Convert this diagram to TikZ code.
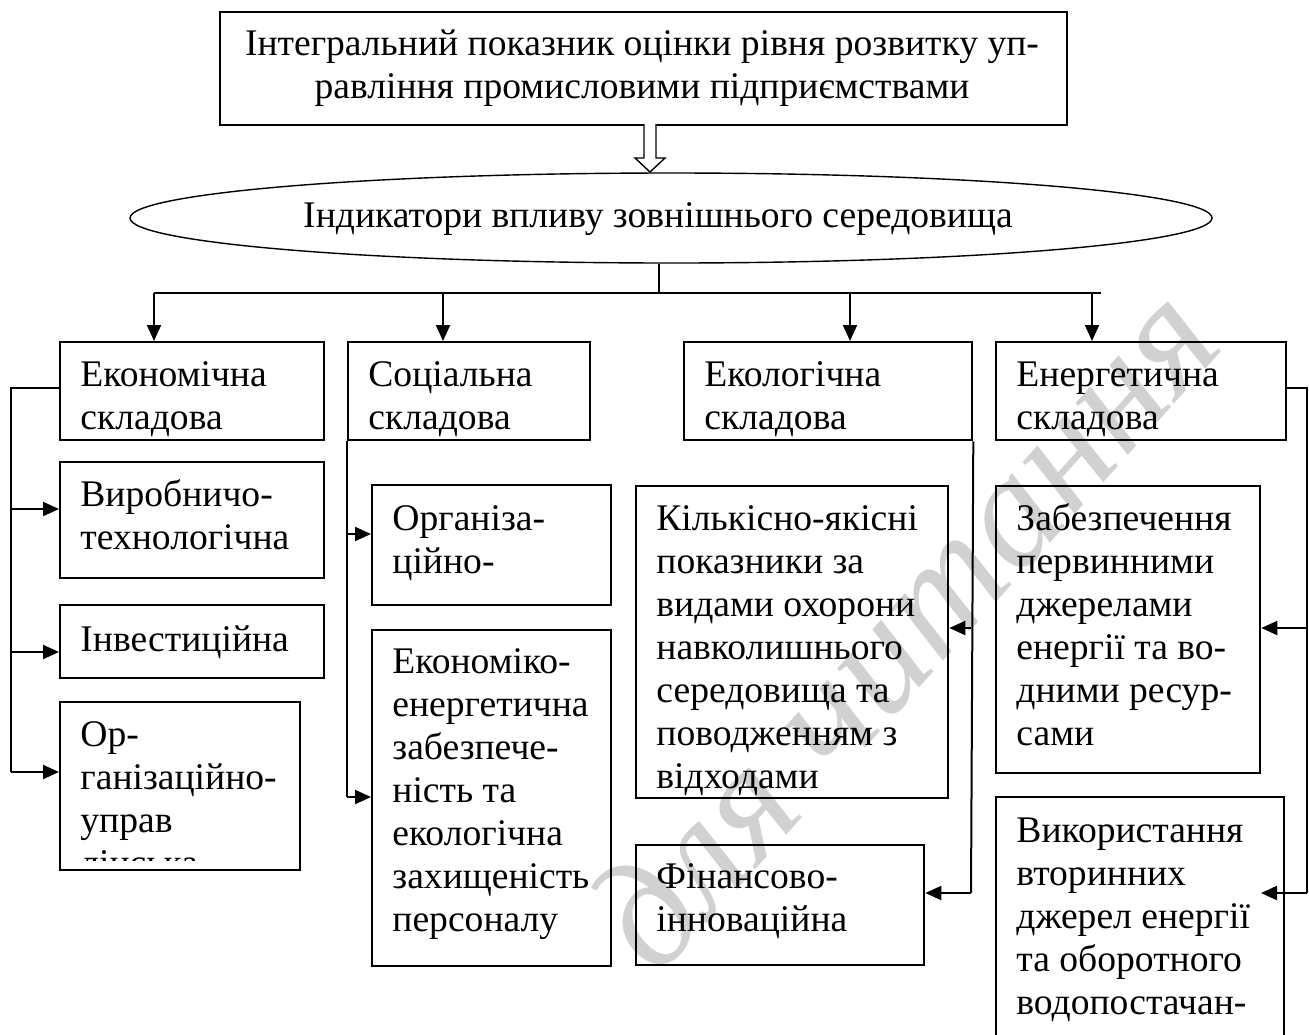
\documentclass[tikz,border=0pt]{standalone}
\usepackage{fontspec}
\setmainfont{Liberation Serif}
\usetikzlibrary{arrows.meta,shapes.geometric,calc}
\newcommand{\mlines}[1]{\begin{tabular}[t]{@{}l@{}}#1\end{tabular}}
\newcommand{\mlinesc}[1]{\begin{tabular}[t]{@{}c@{}}#1\end{tabular}}
\begin{document}
\begin{tikzpicture}[x=0.5pt,y=-0.5pt,
  box/.style={draw, line width=1.15pt, rectangle, anchor=north west, inner sep=0pt},
  txt/.style={anchor=base west, inner sep=0pt, font=\fontsize{18.8pt}{21.5pt}\selectfont},
  arr/.style={line width=1pt, -{Triangle[length=8pt,width=7pt]}},
  conn/.style={line width=1pt}]
\useasboundingbox (0,0) rectangle (1309,1034);
\clip (0,0) rectangle (1309,1034);

% watermark
\node[rotate=48, text=black!18, inner sep=0pt, anchor=base east,
      font=\fontsize{80pt}{80pt}\selectfont\itshape] (wm) at (1228,345) {для читання};

% top box
\node[box, line width=1pt, minimum width=423.5pt, minimum height=56.5pt] (top) at (219,11) {};
\node[anchor=base, inner sep=0pt, font=\fontsize{18.8pt}{21.5pt}\selectfont] (topt) at (642,55)
  {\mlinesc{Інтегральний показник оцінки рівня розвитку уп-\\равління промисловими підприємствами}};

% hollow arrow
\coordinate (ha) at (650,124);
\draw[line width=0.7pt, fill=white] (ha) ++(-6,0) -- ++(0,34) -- ++(-9,0) -- ++(15,14) -- ++(15,-14) -- ++(-9,0) -- ++(0,-34);

% ellipse
\node[draw, ellipse, line width=0.7pt, minimum width=541pt, minimum height=45pt, inner sep=0pt] (ell) at (671,218) {};
\node[anchor=base, inner sep=0pt, font=\fontsize{18.8pt}{21.5pt}\selectfont] (ellt) at (658,227)
  {Індикатори впливу зовнішнього середовища};

% distribution lines
\coordinate (hc) at (659,293);
\coordinate (h1) at (154,293);
\coordinate (h2) at (443,293);
\coordinate (h3) at (850,293);
\coordinate (h4) at (1092,293);
\coordinate (h5) at (1101,293);
\draw[line width=0.7pt] (ell.south -| hc) -- (hc);
\draw[conn] (h1) -- (h5);

% row 1
\node[box, minimum width=132pt, minimum height=49pt] (e1) at (59,341) {};
\node[box, minimum width=121pt, minimum height=49pt] (s1) at (347,341) {};
\node[box, minimum width=144pt, minimum height=49pt] (k1) at (683,341) {};
\node[box, minimum width=145pt, minimum height=49pt] (n1) at (995,341) {};
\node[txt] (e1t) at ($(e1.north west)+(21,45)$) {\mlines{Економічна\\складова}};
\node[txt] (s1t) at ($(s1.north west)+(21,45)$) {\mlines{Соціальна\\складова}};
\node[txt] (k1t) at ($(k1.north west)+(21,45)$) {\mlines{Екологічна\\складова}};
\node[txt] (n1t) at ($(n1.north west)+(21,45)$) {\mlines{Енергетична\\складова}};

\draw[arr] (h1) -- (h1 |- e1.north);
\draw[arr] (h2) -- (h2 |- s1.north);
\draw[arr] (h3) -- (h3 |- k1.north);
\draw[arr] (h4) -- (h4 |- n1.north);

% economic column
\node[box, minimum width=132pt, minimum height=58pt] (vyr) at (59,461) {};
\node[box, minimum width=132pt, minimum height=36.5pt] (inv) at (59,604) {};
\node[box, minimum width=120pt, minimum height=84pt] (org) at (59,701) {};
\node[txt] (vyrt) at ($(vyr.north west)+(21,45)$) {\mlines{Виробничо-\\технологічна}};
\node[txt] (invt) at ($(inv.north west)+(21,47)$) {Інвестиційна};
\begin{scope}
  \clip (59,701) rectangle (299,860);
  \node[txt] (orgt) at ($(org.north west)+(21,45)$) {\mlines{Ор-\\ганізаційно-\\управ\\лінська}};
\end{scope}
\coordinate (l0) at (11,388);
\coordinate (l1) at (11,509);
\coordinate (l2) at (11,652);
\coordinate (l3) at (11,772);
\draw[conn] (e1.west |- l0) -- (l0) -- (l3);
\draw[arr] (l1) -- (l1 -| vyr.west);
\draw[arr] (l2) -- (l2 -| inv.west);
\draw[arr] (l3) -- (l3 -| org.west);

% social column
\node[box, minimum width=119.5pt, minimum height=60pt] (org2) at (371,484) {};
\node[box, minimum width=119.5pt, minimum height=168pt] (eken) at (371,629) {};
\node[txt] (org2t) at ($(org2.north west)+(21,46)$) {\mlines{Організа-\\ційно-}};
\node[txt] (ekent) at ($(eken.north west)+(21,44)$) {\mlines{Економіко-\\енергетична\\забезпече-\\ність та\\екологічна\\захищеність\\персоналу}};
\coordinate (sa) at (347,534);
\coordinate (sb) at (347,797);
\draw[conn] (s1.south west) -- (sb);
\draw[arr] (sa) -- (sa -| org2.west);
\draw[arr] (sb) -- (sb -| eken.west);

% ecological column
\node[box, minimum width=156pt, minimum height=156pt] (kil) at (635,485) {};
\node[box, minimum width=144pt, minimum height=60pt] (fin) at (635,844) {};
\node[txt] (kilt) at ($(kil.north west)+(21,45)$) {\mlines{Кількісно-якісні\\показники за\\видами охорони\\навколишнього\\середовища та\\поводженням з\\відходами}};
\node[txt] (fint) at ($(fin.north west)+(21,44)$) {\mlines{Фінансово-\\інноваційна}};
\coordinate (ka) at (971,628);
\coordinate (kb) at (971,893);
\draw[conn] (k1.south east) -- (kb);
\draw[arr] (ka) -- (ka -| kil.east);
\draw[arr] (kb) -- (kb -| fin.east);

% energy column
\node[box, minimum width=132pt, minimum height=143.5pt] (zab) at (995,485) {};
\node[box, minimum width=144pt, minimum height=152pt] (vyk) at (995,796) {};
\node[txt] (zabt) at ($(zab.north west)+(21,45)$) {\mlines{Забезпечення\\первинними\\джерелами\\енергії та во-\\дними ресур-\\сами}};
\node[txt] (vykt) at ($(vyk.north west)+(21,46)$) {\mlines{Використання\\вторинних\\джерел енергії\\та оборотного\\водопостачан-}};
\coordinate (n0) at (1307,388);
\coordinate (na) at (1307,628);
\coordinate (nb) at (1307,893);
\coordinate (nbe) at (1261,893);
\draw[conn] (n1.east |- n0) -- (n0) -- (nb);
\draw[arr] (na) -- (na -| zab.east);
\draw[arr] (nb) -- (nbe);
\end{tikzpicture}
\end{document}
